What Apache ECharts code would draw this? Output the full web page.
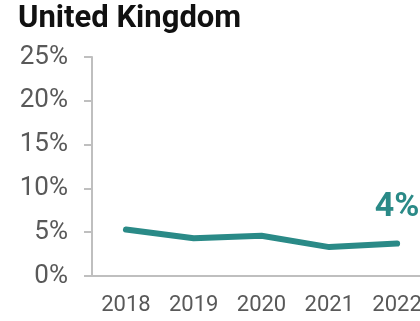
<!DOCTYPE html>
<html>
<head>
<meta charset="utf-8">
<script src="https://cdn.jsdelivr.net/npm/echarts@6/dist/echarts.min.js"></script>
<style>
html, body { margin: 0; padding: 0; background: #fff; }
#main { width: 420px; height: 321px; }
</style>
</head>
<body>
<div id="main"></div>
<script>
var years = ['2018', '2019', '2020', '2021', '2022'];
var shares = [5.3, 4.3, 4.6, 3.3, 3.7];
var lastLabel = '4%';

var myChart = echarts.init(document.getElementById('main'));

var lineData = shares.map(function (v, i) {
	if (i === shares.length - 1) {
		return {
			value: v,
			label: {
				show: true,
				position: 'top',
				distance: 19,
				formatter: lastLabel,
				color: '#2a8a87',
				fontFamily: 'Roboto',
				fontWeight: 'bold',
				fontSize: 34
			}
		};
	}
	return v;
});

var option = {
	animation: false,
	title: {
		text: 'United Kingdom',
		left: 13,
		top: -1,
		textStyle: {
			fontFamily: 'Roboto',
			fontWeight: 'bold',
			fontSize: 31,
			color: '#111'
		}
	},
	grid: {
		left: 92,
		top: 57,
		width: 339,
		bottom: 45,
		outerBoundsMode: 'none'
	},
	xAxis: {
		type: 'category',
		data: years,
		boundaryGap: true,
		axisTick: { show: false },
		axisLine: { lineStyle: { color: '#bfbfbf', width: 2 } },
		axisLabel: {
			margin: 18,
			fontFamily: 'Roboto',
			fontSize: 22,
			color: '#595959',
			interval: 0
		}
	},
	yAxis: {
		type: 'value',
		min: 0,
		max: 25,
		interval: 5,
		splitLine: { show: false },
		axisLine: { show: true, lineStyle: { color: '#bfbfbf', width: 2 } },
		axisTick: { show: true, length: 8, lineStyle: { color: '#bfbfbf', width: 2 } },
		axisLabel: {
			margin: 24,
			fontFamily: 'Roboto',
			fontSize: 26,
			color: '#595959',
			formatter: '{value}%'
		}
	},
	series: [{
		type: 'line',
		data: lineData,
		symbol: 'circle',
		symbolSize: 1,
		showSymbol: true,
		lineStyle: { color: '#2a8a87', width: 6, cap: 'round' },
		itemStyle: { color: '#2a8a87' }
	}]
};
myChart.setOption(option);
</script>
</body>
</html>
